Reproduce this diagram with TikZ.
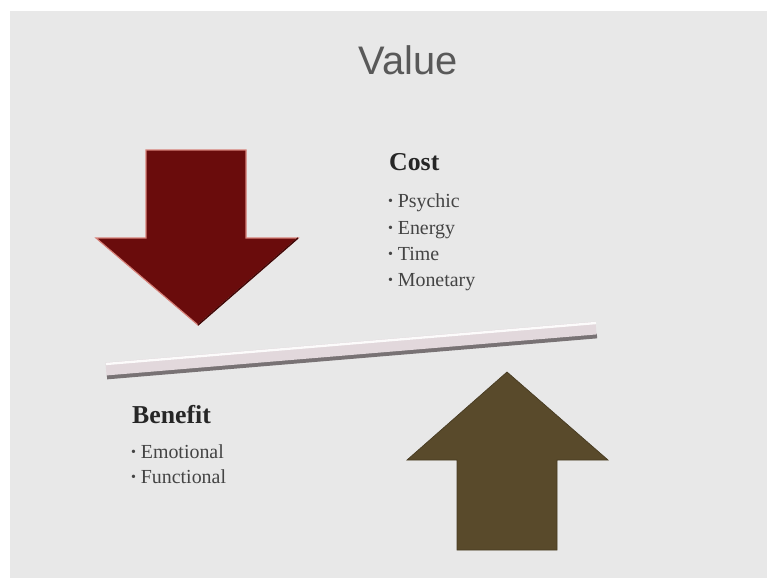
\documentclass[tikz,border=0pt]{standalone}
\usepackage{fontspec}
\setmainfont{Liberation Serif}
\newfontfamily\titlefont{Liberation Sans}
\usepackage{tikz}
\usetikzlibrary{calc}
\definecolor{mybg}{RGB}{232, 232, 232}
\definecolor{myred}{RGB}{106, 12, 12}
\definecolor{myredlight}{RGB}{214, 128, 120}
\definecolor{mybrown}{RGB}{89, 74, 43}
\definecolor{mybar}{RGB}{226, 216, 220}
\definecolor{mybarshade}{RGB}{120, 114, 116}
\definecolor{mytext}{RGB}{68, 68, 68}
\tikzstyle{heading} = [anchor=base west, inner sep=0, text=black!85,
    font=\fontsize{22}{26}\selectfont\bfseries]
\tikzstyle{item} = [anchor=base west, inner sep=0, text=mytext,
    font=\fontsize{17}{20}\selectfont]
\tikzstyle{title} = [anchor=base, inner sep=0, text=black!65,
    font=\titlefont\fontsize{34}{40}\selectfont]
\newcommand{\bul}{\raisebox{1pt}{\fontsize{12}{12}\selectfont\textbullet}\hspace{4pt}}

\begin{document}
\begin{tikzpicture}[x=0.03cm, y=-0.03cm]
\useasboundingbox (0,0) rectangle (767,579);
\fill[white] (0,0) rectangle (767,579);
\fill[mybg] (10,11) rectangle (767,578);

% Title
\node[title] (value) at (408,74) {Value};

%%% COST ARROW
% pointing down, red
\fill[myred, draw=myredlight, line width=1pt, line join=miter]
    (146,150) -- (246,150) -- (246,238) -- (298,238) -- (198,325)
    -- (96,238) -- (146,238) -- cycle;
\draw[myred!60!black, line width=1.2pt] (298,238) -- (198,325);

%%% BAR
\draw[mybarshade, line width=4pt] (107,377) -- (597,336);
\draw[mybar, line width=11pt] (106,369) -- (596,328);
\draw[white!90!mybar, line width=2pt] (106,364) -- (596,323);

%%% BENEFIT ARROW
% pointing up, brown
\fill[mybrown, draw=mybrown!80!black, line width=0.6pt, line join=miter]
    (457,550) -- (557,550) -- (557,460) -- (608,460) -- (507,372)
    -- (407,460) -- (457,460) -- cycle;

% Cost list
\node[heading] (cost) at (389,170) {Cost};
\node[item] (psychic) at (388,207) {\bul Psychic};
\node[item] (energy) at (388,234) {\bul Energy};
\node[item] (time) at (388,260) {\bul Time};
\node[item] (monetary) at (388,286) {\bul Monetary};

% Benefit list
\node[heading] (benefit) at (132,423) {Benefit};
\node[item] (emotional) at (131,458) {\bul Emotional};
\node[item] (functional) at (131,483) {\bul Functional};

\end{tikzpicture}
\end{document}
